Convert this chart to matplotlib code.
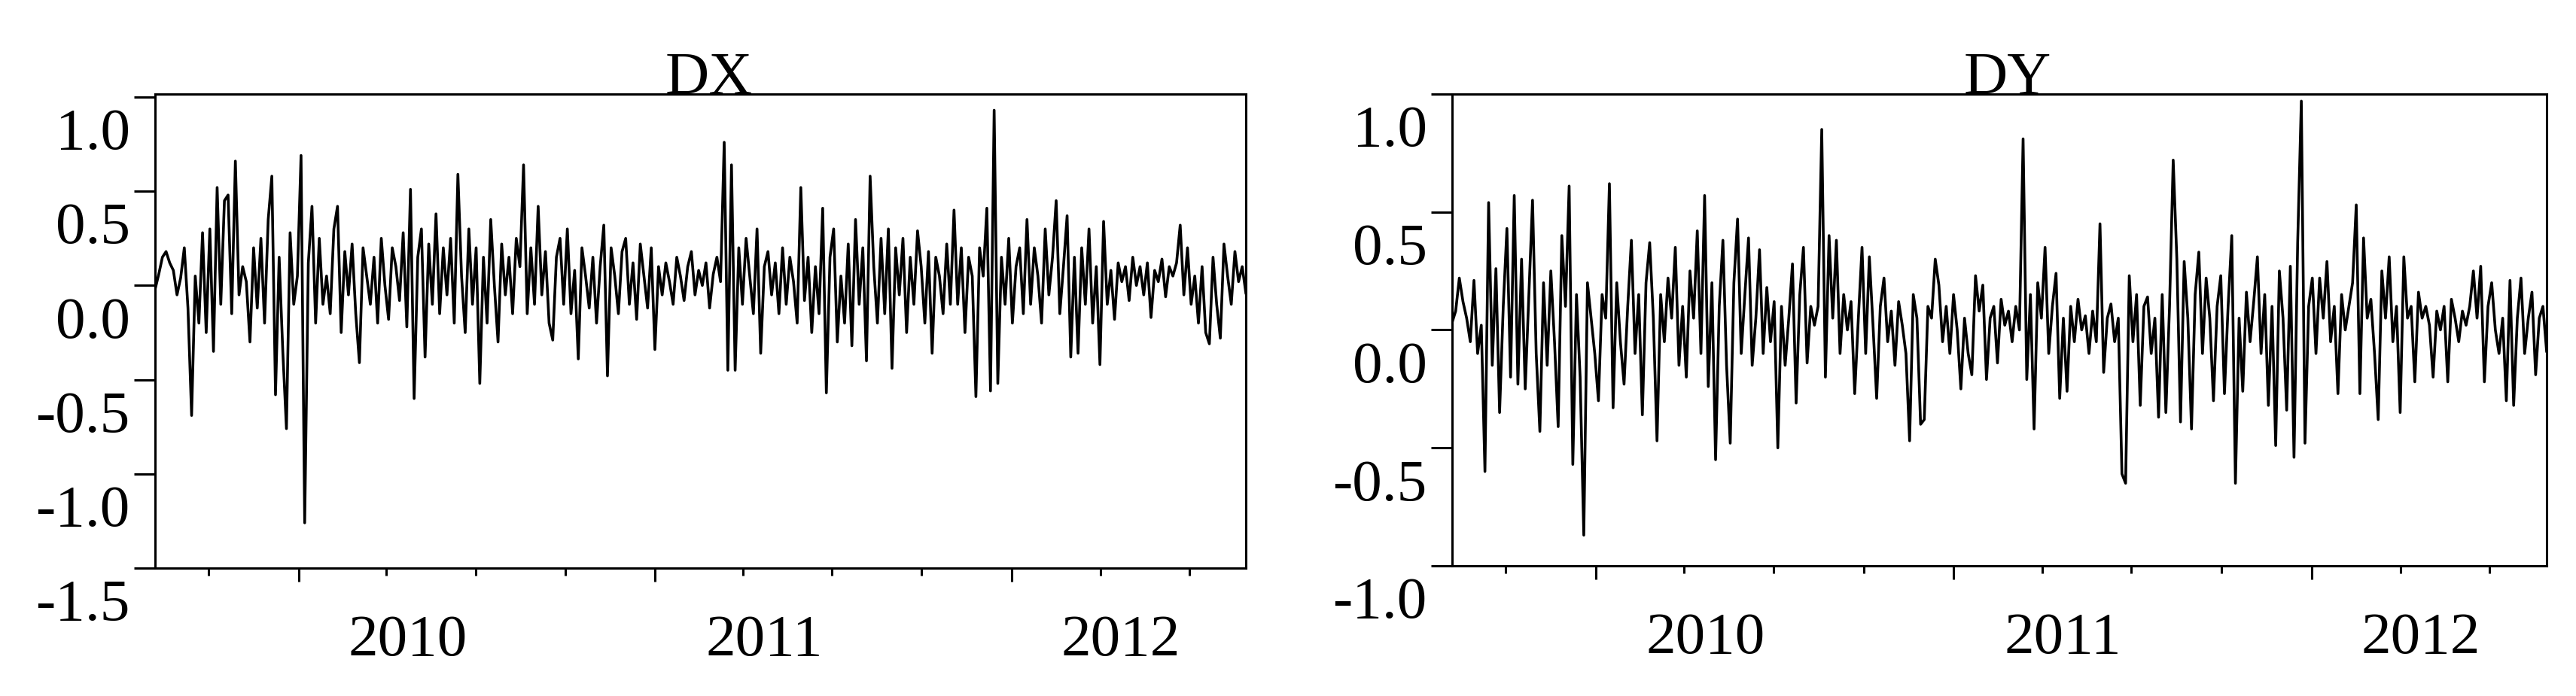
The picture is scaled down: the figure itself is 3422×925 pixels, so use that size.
import matplotlib
matplotlib.use("Agg")
import matplotlib.pyplot as plt
import matplotlib.dates as mdates
import matplotlib.transforms as mtransforms
import pandas as pd

plt.rcParams['font.family'] = 'Liberation Serif'

titles = ['DX', 'DY']
start_date = '2009-08-07'
end_date = '2012-08-28'

# values, ~every 5th trading day
dx = [-0.02, 0.06, 0.15, 0.18, 0.12, 0.08, -0.05, 0.04, 0.20, -0.12, -0.69, 0.05, -0.20, 0.28, -0.25, 0.30, -0.35, 0.52, -0.10, 0.45,
      0.48, -0.15, 0.66, -0.05, 0.10, 0.02, -0.30, 0.20, -0.12, 0.25, -0.20, 0.35, 0.58, -0.58, 0.15, -0.35, -0.76, 0.28, -0.10, 0.05,
      0.69, -1.26, 0.12, 0.42, -0.20, 0.25, -0.10, 0.05, -0.15, 0.30, 0.42, -0.25, 0.18, -0.05, 0.22, -0.15, -0.41, 0.20, 0.05, -0.10,
      0.15, -0.20, 0.25, 0.00, -0.18, 0.20, 0.10, -0.08, 0.28, -0.22, 0.51, -0.60, 0.15, 0.30, -0.38, 0.22, -0.10, 0.38, -0.15, 0.20,
      -0.05, 0.25, -0.20, 0.59, 0.05, -0.25, 0.30, -0.10, 0.20, -0.52, 0.15, -0.20, 0.35, 0.00, -0.30, 0.22, -0.05, 0.15, -0.15, 0.25,
      0.10, 0.64, -0.15, 0.20, -0.10, 0.42, -0.05, 0.18, -0.20, -0.29, 0.15, 0.25, -0.10, 0.30, -0.15, 0.08, -0.39, 0.20, 0.05, -0.12,
      0.15, -0.20, 0.10, 0.32, -0.48, 0.20, 0.05, -0.15, 0.18, 0.25, -0.10, 0.12, -0.18, 0.22, 0.05, -0.12, 0.20, -0.34, 0.10, -0.05,
      0.12, 0.02, -0.10, 0.15, 0.05, -0.08, 0.10, 0.18, -0.05, 0.08, 0.00, 0.12, -0.12, 0.06, 0.15, 0.02, 0.76, -0.45, 0.64, -0.45,
      0.20, -0.10, 0.25, 0.05, -0.15, 0.30, -0.36, 0.10, 0.18, -0.05, 0.12, -0.15, 0.20, -0.10, 0.15, 0.02, -0.20, 0.52, -0.08, 0.15,
      -0.25, 0.10, -0.15, 0.41, -0.57, 0.15, 0.30, -0.30, 0.05, -0.20, 0.22, -0.32, 0.35, -0.10, 0.20, -0.40, 0.58, 0.10, -0.20, 0.25,
      -0.15, 0.30, -0.44, 0.20, -0.05, 0.25, -0.25, 0.15, -0.10, 0.29, 0.10, -0.20, 0.18, -0.36, 0.15, 0.05, -0.15, 0.22, -0.10, 0.40,
      -0.10, 0.20, -0.25, 0.15, 0.05, -0.59, 0.20, 0.05, 0.41, -0.56, 0.93, -0.52, 0.15, -0.10, 0.25, -0.20, 0.10, 0.20, -0.15, 0.35,
      -0.10, 0.20, 0.05, -0.20, 0.30, -0.05, 0.15, 0.45, -0.15, 0.10, 0.37, -0.38, 0.15, -0.36, 0.20, -0.10, 0.30, -0.20, 0.10, -0.42,
      0.34, -0.10, 0.08, -0.18, 0.12, 0.02, 0.10, -0.08, 0.15, 0.00, 0.10, -0.05, 0.12, -0.17, 0.08, 0.02, 0.14, -0.06, 0.10, 0.05,
      0.12, 0.32, -0.05, 0.20, -0.10, 0.05, -0.20, 0.10, -0.25, -0.31, 0.15, -0.10, -0.28, 0.22, 0.05, -0.10, 0.18, 0.02, 0.10, -0.04]

dy = [0.03, 0.08, 0.22, 0.12, 0.05, -0.05, 0.21, -0.10, 0.02, -0.60, 0.54, -0.15, 0.26, -0.35, 0.10, 0.43, -0.20, 0.57, -0.23, 0.30,
      -0.25, 0.15, 0.55, -0.10, -0.43, 0.20, -0.15, 0.25, -0.05, -0.41, 0.40, 0.10, 0.61, -0.57, 0.15, -0.20, -0.87, 0.20, 0.05, -0.10,
      -0.30, 0.15, 0.05, 0.62, -0.33, 0.20, -0.05, -0.23, 0.10, 0.38, -0.10, 0.15, -0.36, 0.20, 0.37, 0.05, -0.47, 0.15, -0.05, 0.22,
      0.05, 0.35, -0.15, 0.10, -0.20, 0.25, 0.05, 0.42, -0.10, 0.57, -0.24, 0.20, -0.55, 0.10, 0.38, -0.15, -0.48, 0.20, 0.47, -0.10,
      0.15, 0.39, -0.15, 0.05, 0.34, -0.10, 0.18, -0.05, 0.12, -0.50, 0.10, -0.15, 0.05, 0.28, -0.31, 0.15, 0.35, -0.14, 0.10, 0.02,
      0.10, 0.85, -0.20, 0.40, 0.05, 0.38, -0.10, 0.15, 0.00, 0.12, -0.27, 0.05, 0.35, -0.10, 0.31, 0.02, -0.29, 0.10, 0.22, -0.05,
      0.08, -0.15, 0.12, 0.02, -0.10, -0.47, 0.15, 0.05, -0.40, -0.38, 0.10, 0.05, 0.30, 0.19, -0.05, 0.10, -0.10, 0.15, 0.00, -0.25,
      0.05, -0.10, -0.19, 0.23, 0.08, 0.19, -0.21, 0.05, 0.10, -0.14, 0.13, 0.02, 0.08, -0.05, 0.10, 0.00, 0.81, -0.21, 0.15, -0.42,
      0.20, 0.05, 0.35, -0.10, 0.10, 0.24, -0.29, 0.05, -0.26, 0.10, -0.05, 0.13, 0.00, 0.06, -0.10, 0.08, -0.05, 0.45, -0.18, 0.05,
      0.11, -0.05, 0.05, -0.61, -0.65, 0.23, -0.05, 0.15, -0.32, 0.10, 0.14, -0.10, 0.05, -0.37, 0.15, -0.35, 0.10, 0.72, 0.30, -0.39,
      0.29, 0.05, -0.42, 0.15, 0.33, -0.10, 0.22, 0.05, -0.30, 0.10, 0.23, -0.27, 0.10, 0.40, -0.65, 0.05, -0.26, 0.16, -0.05, 0.12,
      0.31, -0.10, 0.15, -0.32, 0.10, -0.49, 0.25, 0.05, -0.34, 0.27, -0.54, 0.37, 0.97, -0.48, 0.10, 0.22, -0.10, 0.22, 0.05, 0.29,
      -0.05, 0.10, -0.27, 0.15, 0.00, 0.10, 0.20, 0.53, -0.27, 0.39, 0.05, 0.13, -0.10, -0.38, 0.25, 0.05, 0.31, -0.05, 0.10, -0.35,
      0.31, 0.05, 0.10, -0.22, 0.16, 0.05, 0.10, 0.02, -0.20, 0.08, 0.00, 0.10, -0.22, 0.13, 0.05, -0.05, 0.08, 0.02, 0.10, 0.25,
      0.05, 0.27, -0.22, 0.10, 0.20, 0.00, -0.10, 0.05, -0.30, 0.21, -0.32, 0.05, 0.22, -0.10, 0.05, 0.16, -0.19, 0.05, 0.10, -0.09]

yticks = [[1.0, 0.5, 0.0, -0.5, -1.0, -1.5], [1.0, 0.5, 0.0, -0.5, -1.0]]
ylims = [(-1.5, 1.016), (-1.0, 1.0)]

dates = pd.date_range(start_date, end_date, periods=len(dx))

fig = plt.figure(figsize=(34.23, 9.25), dpi=100)
boxes = [[0.0602, 0.1838, 0.4233, 0.6811], [0.5635, 0.1870, 0.4248, 0.6779]]

# the source image has its text drawn a bit off the ticks; mimic that
down = mtransforms.ScaledTranslation(0, -0.42, fig.dpi_scale_trans)
right = mtransforms.ScaledTranslation(1.45, 0, fig.dpi_scale_trans)
title_shift = mtransforms.ScaledTranslation(0.11, 0, fig.dpi_scale_trans)

for box, title, series, yt, yl in zip(boxes, titles, [dx, dy], yticks, ylims):
    ax = fig.add_axes(box)
    ax.plot(dates, series, color='black', lw=2.6)
    ax.set_xlim(dates[0], dates[-1])
    ax.set_ylim(*yl)
    ax.set_yticks(yt)
    ax.set_yticklabels(['%.1f' % v for v in yt])
    ax.xaxis.set_major_locator(mdates.YearLocator())
    ax.xaxis.set_major_formatter(mdates.DateFormatter('%Y'))
    ax.xaxis.set_minor_locator(mdates.MonthLocator(bymonth=[4, 7, 10]))
    for s in ax.spines.values():
        s.set_linewidth(2.2)
    ax.tick_params(axis='y', direction='out', length=20, width=2.2, pad=4, labelsize=57)
    ax.tick_params(axis='x', which='major', direction='out', length=13, width=2.2, pad=31, labelsize=57)
    ax.tick_params(axis='x', which='minor', direction='out', length=7, width=2.2)
    for lab in ax.get_yticklabels():
        lab.set_transform(lab.get_transform() + down)
    for lab in ax.get_xticklabels():
        lab.set_transform(lab.get_transform() + right)
    ax.text(0.5, 1.0, title, transform=ax.transAxes + title_shift,
            ha='center', va='baseline', fontsize=58)

fig.savefig('out.png', dpi=100)
